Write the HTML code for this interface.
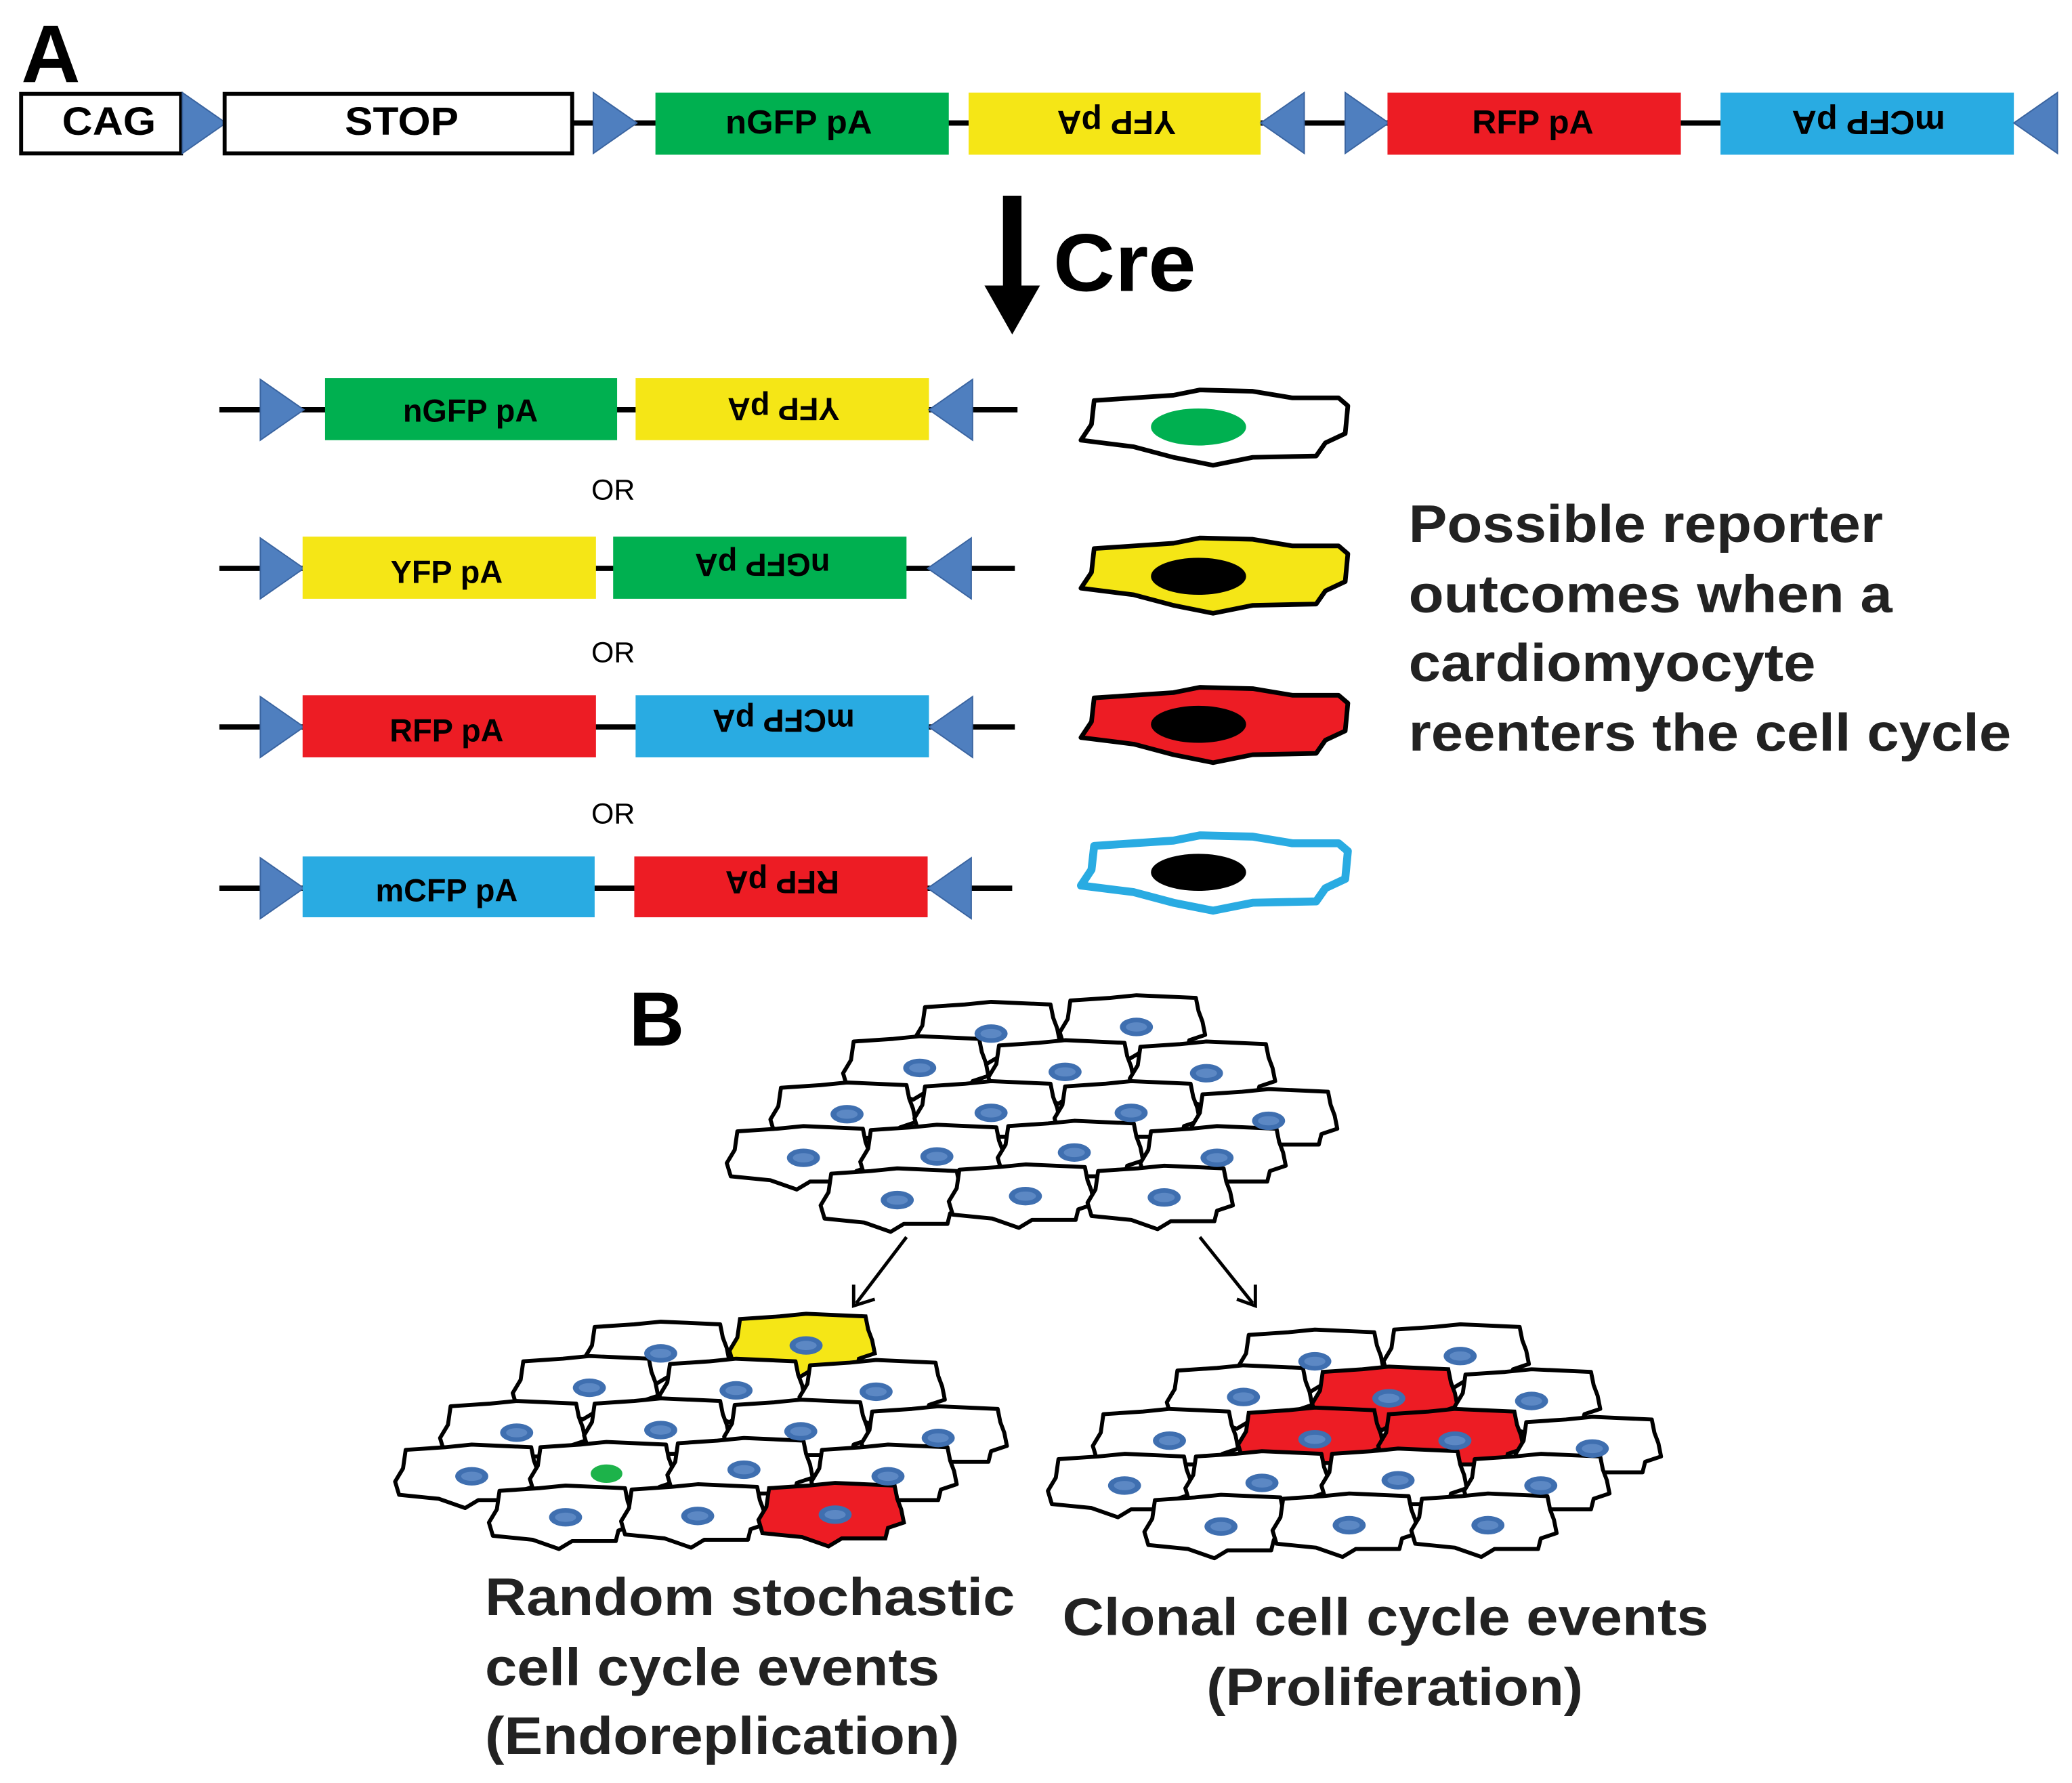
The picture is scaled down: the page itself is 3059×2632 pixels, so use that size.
<!DOCTYPE html>
<html><head><meta charset="utf-8"><style>html,body{margin:0;padding:0;background:#fff}svg{display:block}</style></head>
<body>
<svg xmlns="http://www.w3.org/2000/svg" width="3059" height="2632" viewBox="0 0 1568 1349" font-family="Liberation Sans, Arial, sans-serif" font-weight="bold">
<defs>
<path id="big" d="M-90,-20 L-30,-24 L-10,-28 L30,-27 L60,-22 L95,-22 L102,-16 L100,5 L85,12 L78,22 L30,23 L0,29 L-30,23 L-60,15 L-100,10 L-92,-2 Z"/>
<path id="sm" d="M-50,-20 L-20,-22 L0,-24 L45,-22 L47,-12 L50,-4 L52,6 L40,10 L38,18 L5,18 L-5,24 L-25,17 L-55,14 L-58,4 L-52,-6 Z"/>
<g id="cw"><use href="#sm" fill="#fff" stroke="#000" stroke-width="3" stroke-linejoin="round"/></g>
<g id="nuc"><ellipse rx="12.5" ry="7" fill="#3f6fb0"/><ellipse rx="8" ry="3.5" fill="#5c88c4"/></g>
<polygon id="tr" points="0,-23 33,0 0,23" fill="#4f7fbf" stroke="#3a64a0" stroke-width="1"/>
<polygon id="tl" points="33,-23 0,0 33,23" fill="#4f7fbf" stroke="#3a64a0" stroke-width="1"/>
</defs>
<rect width="1568" height="1349" fill="#fff"/>
<text x="16" y="62" font-size="62">A</text>

<!-- top construct -->
<line x1="433" y1="93" x2="1302" y2="93" stroke="#000" stroke-width="4"/>
<rect x="16" y="71" width="121" height="45" fill="#fff" stroke="#000" stroke-width="3"/>
<text x="47" y="102" font-size="30" textLength="71" lengthAdjust="spacingAndGlyphs">CAG</text>
<use href="#tr" x="138" y="93"/>
<rect x="170" y="71" width="263" height="45" fill="#fff" stroke="#000" stroke-width="3"/>
<text x="261" y="102" font-size="30" textLength="86" lengthAdjust="spacingAndGlyphs">STOP</text>
<use href="#tr" x="449" y="93"/>
<g font-size="25">
<rect x="496" y="70" width="222" height="47" fill="#00b050"/>
<text x="549" y="101" textLength="111" lengthAdjust="spacingAndGlyphs">nGFP pA</text>
<rect x="733" y="70" width="221" height="47" fill="#f5e616"/>
<text transform="translate(845,93) rotate(180)" x="-45" y="9" textLength="90" lengthAdjust="spacingAndGlyphs">YFP pA</text>
<use href="#tl" x="954" y="93"/>
<use href="#tr" x="1018" y="93"/>
<rect x="1050" y="70" width="222" height="47" fill="#ed1c24"/>
<text x="1114" y="101" textLength="92" lengthAdjust="spacingAndGlyphs">RFP pA</text>
<rect x="1302" y="70" width="222" height="47" fill="#29abe2"/>
<text transform="translate(1414,93) rotate(180)" x="-58" y="9" textLength="116" lengthAdjust="spacingAndGlyphs">mCFP pA</text>
</g>
<use href="#tl" x="1524" y="93"/>

<!-- Cre arrow -->
<rect x="759" y="148" width="14" height="72" fill="#000"/>
<polygon points="745,216 787,216 766,253" fill="#000"/>
<text x="797" y="220" font-size="62" textLength="108" lengthAdjust="spacingAndGlyphs">Cre</text>

<!-- rows -->
<g font-size="24" text-anchor="middle">
<line x1="166" y1="310" x2="770" y2="310" stroke="#000" stroke-width="4"/>
<use href="#tr" x="197" y="310"/>
<rect x="246" y="286" width="221" height="47" fill="#00b050"/>
<text x="356" y="319">nGFP pA</text>
<rect x="481" y="286" width="222" height="47" fill="#f5e616"/>
<text transform="translate(593,310) rotate(180)" y="9">YFP pA</text>
<use href="#tl" x="703" y="310"/>
<text x="464" y="378" font-size="22" font-weight="normal">OR</text>

<line x1="166" y1="430" x2="768" y2="430" stroke="#000" stroke-width="4"/>
<use href="#tr" x="197" y="430"/>
<rect x="229" y="406" width="222" height="47" fill="#f5e616"/>
<text x="338" y="441">YFP pA</text>
<rect x="464" y="406" width="222" height="47" fill="#00b050"/>
<text transform="translate(577,428) rotate(180)" y="9">nGFP pA</text>
<use href="#tl" x="702" y="430"/>
<text x="464" y="501" font-size="22" font-weight="normal">OR</text>

<line x1="166" y1="550" x2="768" y2="550" stroke="#000" stroke-width="4"/>
<use href="#tr" x="197" y="550"/>
<rect x="229" y="526" width="222" height="47" fill="#ed1c24"/>
<text x="338" y="561">RFP pA</text>
<rect x="481" y="526" width="222" height="47" fill="#29abe2"/>
<text transform="translate(593,546) rotate(180)" y="9">mCFP pA</text>
<use href="#tl" x="703" y="550"/>
<text x="464" y="623" font-size="22" font-weight="normal">OR</text>

<line x1="166" y1="672" x2="766" y2="672" stroke="#000" stroke-width="4"/>
<use href="#tr" x="197" y="672"/>
<rect x="229" y="648" width="221" height="46" fill="#29abe2"/>
<text x="338" y="682">mCFP pA</text>
<rect x="480" y="648" width="222" height="46" fill="#ed1c24"/>
<text transform="translate(592,668) rotate(180)" y="9">RFP pA</text>
<use href="#tl" x="702" y="672"/>
</g>

<!-- big cells -->
<g stroke-linejoin="round">
<use href="#big" x="918" y="323" fill="#fff" stroke="#000" stroke-width="3.5"/>
<ellipse cx="907" cy="323" rx="36" ry="14" fill="#00b050"/>
<use href="#big" x="918" y="435" fill="#f5e616" stroke="#000" stroke-width="3.5"/>
<ellipse cx="907" cy="436" rx="36" ry="14" fill="#000"/>
<use href="#big" x="918" y="548" fill="#ed1c24" stroke="#000" stroke-width="3.5"/>
<ellipse cx="907" cy="548" rx="36" ry="14" fill="#000"/>
<use href="#big" x="918" y="660" fill="#fff" stroke="#29abe2" stroke-width="6"/>
<ellipse cx="907" cy="660" rx="36" ry="14" fill="#000"/>
</g>

<g font-size="40" fill="#222" lengthAdjust="spacingAndGlyphs">
<text x="1066" y="410" textLength="359" lengthAdjust="spacingAndGlyphs">Possible reporter</text>
<text x="1066" y="463" textLength="366" lengthAdjust="spacingAndGlyphs">outcomes when a</text>
<text x="1066" y="515" textLength="308" lengthAdjust="spacingAndGlyphs">cardiomyocyte</text>
<text x="1066" y="568" textLength="456" lengthAdjust="spacingAndGlyphs">reenters the cell cycle</text>
</g>

<text x="476" y="791" font-size="58">B</text>

<!-- top sheet -->
<g>
<use href="#cw" x="750" y="782"/><use href="#cw" x="860" y="777"/>
<use href="#cw" x="696" y="808"/><use href="#cw" x="806" y="811"/><use href="#cw" x="913" y="812"/>
<use href="#cw" x="641" y="843"/><use href="#cw" x="750" y="842"/><use href="#cw" x="856" y="842"/><use href="#cw" x="960" y="848"/>
<use href="#cw" x="608" y="876"/><use href="#cw" x="709" y="875"/><use href="#cw" x="813" y="872"/><use href="#cw" x="921" y="876"/>
<use href="#cw" x="679" y="908"/><use href="#cw" x="776" y="905"/><use href="#cw" x="881" y="906"/>
<use href="#nuc" x="750" y="782"/><use href="#nuc" x="860" y="777"/>
<use href="#nuc" x="696" y="808"/><use href="#nuc" x="806" y="811"/><use href="#nuc" x="913" y="812"/>
<use href="#nuc" x="641" y="843"/><use href="#nuc" x="750" y="842"/><use href="#nuc" x="856" y="842"/><use href="#nuc" x="960" y="848"/>
<use href="#nuc" x="608" y="876"/><use href="#nuc" x="709" y="875"/><use href="#nuc" x="813" y="872"/><use href="#nuc" x="921" y="876"/>
<use href="#nuc" x="679" y="908"/><use href="#nuc" x="776" y="905"/><use href="#nuc" x="881" y="906"/>
</g>

<!-- arrows -->
<g stroke="#000" stroke-width="2.5" fill="none">
<line x1="686" y1="936" x2="648" y2="986"/>
<polyline points="646,972 646,988 662,983"/>
<line x1="908" y1="936" x2="948" y2="986"/>
<polyline points="936,983 950,988 950,972"/>
</g>

<!-- left sheet -->
<g>
<use href="#cw" x="500" y="1024"/><use href="#sm" x="610" y="1018" fill="#f5e616" stroke="#000" stroke-width="3"/>
<use href="#cw" x="446" y="1050"/><use href="#cw" x="557" y="1052"/><use href="#cw" x="663" y="1053"/>
<use href="#cw" x="391" y="1084"/><use href="#cw" x="500" y="1082"/><use href="#cw" x="606" y="1083"/><use href="#cw" x="710" y="1088"/>
<use href="#cw" x="357" y="1117"/><use href="#cw" x="459" y="1115"/><use href="#cw" x="563" y="1112"/><use href="#cw" x="672" y="1117"/>
<use href="#cw" x="428" y="1148"/><use href="#cw" x="528" y="1147"/><use href="#sm" x="632" y="1146" fill="#ed1c24" stroke="#000" stroke-width="3"/>
<use href="#nuc" x="500" y="1024"/><use href="#nuc" x="610" y="1018"/>
<use href="#nuc" x="446" y="1050"/><use href="#nuc" x="557" y="1052"/><use href="#nuc" x="663" y="1053"/>
<use href="#nuc" x="391" y="1084"/><use href="#nuc" x="500" y="1082"/><use href="#nuc" x="606" y="1083"/><use href="#nuc" x="710" y="1088"/>
<use href="#nuc" x="357" y="1117"/><ellipse cx="459" cy="1115" rx="12" ry="7" fill="#1db34a"/><use href="#nuc" x="563" y="1112"/><use href="#nuc" x="672" y="1117"/>
<use href="#nuc" x="428" y="1148"/><use href="#nuc" x="528" y="1147"/><use href="#nuc" x="632" y="1146"/>
</g>

<!-- right sheet -->
<g>
<use href="#cw" x="995" y="1030"/><use href="#cw" x="1105" y="1026"/>
<use href="#cw" x="941" y="1057"/><use href="#sm" x="1051" y="1058" fill="#ed1c24" stroke="#000" stroke-width="3"/><use href="#cw" x="1159" y="1060"/>
<use href="#cw" x="885" y="1090"/><use href="#sm" x="995" y="1089" fill="#ed1c24" stroke="#000" stroke-width="3"/><use href="#sm" x="1101" y="1090" fill="#ed1c24" stroke="#000" stroke-width="3"/><use href="#cw" x="1205" y="1096"/>
<use href="#cw" x="851" y="1124"/><use href="#cw" x="955" y="1122"/><use href="#cw" x="1058" y="1120"/><use href="#cw" x="1166" y="1124"/>
<use href="#cw" x="924" y="1155"/><use href="#cw" x="1021" y="1154"/><use href="#cw" x="1126" y="1154"/>
<use href="#nuc" x="995" y="1030"/><use href="#nuc" x="1105" y="1026"/>
<use href="#nuc" x="941" y="1057"/><use href="#nuc" x="1051" y="1058"/><use href="#nuc" x="1159" y="1060"/>
<use href="#nuc" x="885" y="1090"/><use href="#nuc" x="995" y="1089"/><use href="#nuc" x="1101" y="1090"/><use href="#nuc" x="1205" y="1096"/>
<use href="#nuc" x="851" y="1124"/><use href="#nuc" x="955" y="1122"/><use href="#nuc" x="1058" y="1120"/><use href="#nuc" x="1166" y="1124"/>
<use href="#nuc" x="924" y="1155"/><use href="#nuc" x="1021" y="1154"/><use href="#nuc" x="1126" y="1154"/>
</g>

<g font-size="40" fill="#222">
<text x="367" y="1222" textLength="401" lengthAdjust="spacingAndGlyphs">Random stochastic</text>
<text x="367" y="1275" textLength="344" lengthAdjust="spacingAndGlyphs">cell cycle events</text>
<text x="367" y="1327" textLength="359" lengthAdjust="spacingAndGlyphs">(Endoreplication)</text>
<text x="804" y="1237" textLength="489" lengthAdjust="spacingAndGlyphs">Clonal cell cycle events</text>
<text x="913" y="1290" textLength="285" lengthAdjust="spacingAndGlyphs">(Proliferation)</text>
</g>
</svg>
</body></html>
